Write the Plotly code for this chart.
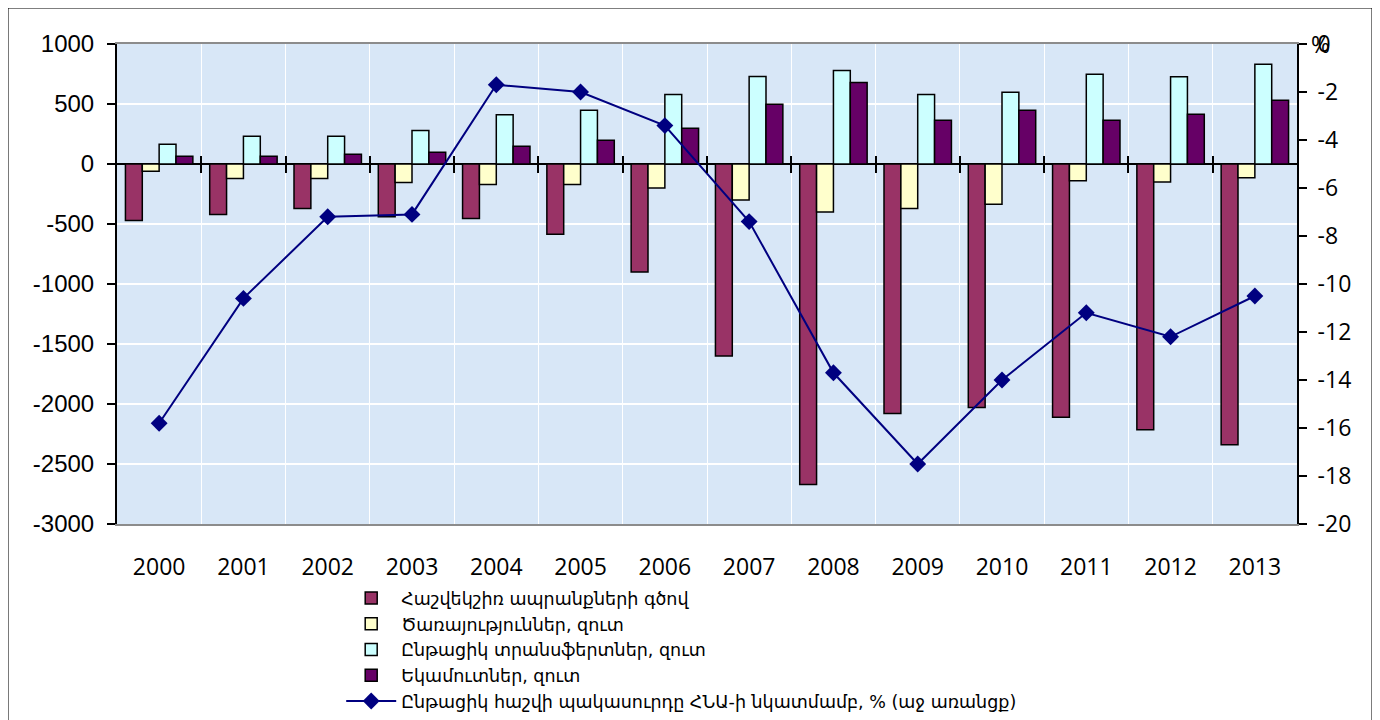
import plotly.graph_objects as go

years = ['2000', '2001', '2002', '2003', '2004', '2005', '2006',
         '2007', '2008', '2009', '2010', '2011', '2012', '2013']

trade_goods = [-470, -420, -370, -440, -455, -585, -900,
               -1600, -2670, -2080, -2030, -2110, -2215, -2340]
services_net = [-60, -120, -120, -155, -170, -170, -200,
                -300, -400, -370, -335, -140, -150, -115]
transfers_net = [165, 232, 232, 280, 411, 447, 580,
                 730, 780, 580, 597, 747, 728, 831]
income_net = [65, 65, 81, 97, 147, 197, 297,
              497, 680, 364, 447, 364, 414, 531]
deficit_pct_gdp = [-15.8, -10.6, -7.2, -7.1, -1.7, -2.0, -3.4,
                   -7.4, -13.7, -17.5, -14.0, -11.2, -12.2, -10.5]

left_ticks = [-3000, -2500, -2000, -1500, -1000, -500, 0, 500, 1000]
right_ticks = [-20, -18, -16, -14, -12, -10, -8, -6, -4, -2, 0]

names = ['Հաշվեկշիռ ապրանքների գծով',
         'Ծառայություններ, զուտ',
         'Ընթացիկ տրանսֆերտներ, զուտ',
         'Եկամուտներ, զուտ',
         'Ընթացիկ հաշվի պակասուրդը ՀՆԱ-ի նկատմամբ, % (աջ առանցք)']

boundaries = [i + 0.5 for i in range(len(years) - 1)]

fig = go.Figure()

bar_colors = ['#993366', '#FFFFCC', '#CCFFFF', '#660066']
for vals, name, col in zip([trade_goods, services_net, transfers_net, income_net],
                           names[:4], bar_colors):
    fig.add_trace(go.Bar(
        x=years, y=vals, name=name,
        marker=dict(color=col, line=dict(color='black', width=1.5))
    ))

fig.add_trace(go.Scatter(
    x=years, y=deficit_pct_gdp, name=names[4], yaxis='y2',
    mode='lines+markers',
    line=dict(color='#000080', width=2),
    marker=dict(symbol='diamond', size=13, color='#000080')
))

# helper traces so the zero-line tick axes get drawn
fig.add_trace(go.Scatter(x=[None], y=[None], xaxis='x2', showlegend=False, hoverinfo='skip'))
fig.add_trace(go.Scatter(x=[None], y=[None], xaxis='x3', showlegend=False, hoverinfo='skip'))

zero_pos = 3000 / 4000

# page body has an 8px margin, so margins are shifted to compensate
fig.update_layout(
    width=1380, height=720,
    margin=dict(l=109, r=91, t=36, b=204, autoexpand=False),
    paper_bgcolor='white',
    plot_bgcolor='#d8e7f7',
    barmode='group', bargap=0.2, bargroupgap=0,
    font=dict(family='Arial', color='black'),
    xaxis=dict(
        type='category', range=[-0.5, 13.5],
        tickson='boundaries', ticks='',
        showgrid=True, gridcolor='white', gridwidth=1,
        showline=True, linecolor='#8c8c8c', linewidth=2, mirror=True,
        tickfont=dict(family='Open Sans', size=23),
        ticklabelstandoff=21,
    ),
    xaxis2=dict(
        overlaying='x', anchor='free', position=zero_pos,
        range=[-0.5, 13.5], tickvals=boundaries, ticks='outside',
        ticklen=8, tickwidth=1.5, tickcolor='black',
        showticklabels=False, showgrid=False, zeroline=False, showline=False,
    ),
    xaxis3=dict(
        overlaying='x', anchor='free', position=zero_pos,
        range=[-0.5, 13.5], tickvals=boundaries, ticks='inside',
        ticklen=8, tickwidth=1.5, tickcolor='black',
        showticklabels=False, showgrid=False, zeroline=False, showline=False,
    ),
    yaxis=dict(
        range=[-3000, 1000],
        tickvals=left_ticks, ticktext=[str(v) for v in left_ticks],
        showgrid=True, gridcolor='white', gridwidth=1.5,
        zeroline=True, zerolinecolor='black', zerolinewidth=1.5,
        showline=True, linecolor='black', linewidth=2,
        ticks='outside', ticklen=8, tickwidth=1.5, tickcolor='black',
        tickfont=dict(family='Arial', size=24),
        ticklabelstandoff=8,
    ),
    yaxis2=dict(
        overlaying='y', side='right', anchor='x',
        range=[-20, 0],
        tickvals=right_ticks, ticktext=[str(v) for v in right_ticks],
        showgrid=False, zeroline=False,
        showline=True, linecolor='black', linewidth=2,
        ticks='outside', ticklen=8, tickwidth=1.5, tickcolor='black',
        tickfont=dict(family='Open Sans', size=23),
        ticklabelstandoff=6,
    ),
    legend=dict(
        x=0.19, y=-0.117, xanchor='left', yanchor='top',
        traceorder='normal',
        font=dict(family='DejaVu Sans', size=17.5),
        bgcolor='rgba(0,0,0,0)', itemwidth=50,
        tracegroupgap=0,
    ),
    showlegend=True,
)

fig.add_annotation(
    text='%', xref='paper', yref='paper', x=1.0102, y=1.0,
    xanchor='left', yanchor='middle', showarrow=False,
    font=dict(family='Open Sans', size=23, color='black')
)

# outer frame of the chart
fig.add_shape(
    type='rect', xref='paper', yref='paper',
    x0=-0.0932, x1=1.0644, y0=-0.45, y1=1.0771,
    line=dict(color='black', width=3), fillcolor='rgba(0,0,0,0)'
)

fig.write_html('out.html')
